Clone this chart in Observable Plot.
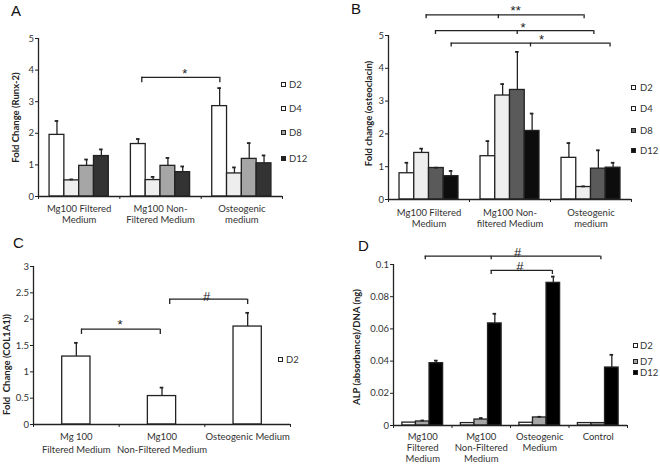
<!DOCTYPE html>
<html>
<head>
<meta charset="utf-8">
<script src="https://cdn.jsdelivr.net/npm/d3@7"></script>
<script src="https://cdn.jsdelivr.net/npm/@observablehq/plot@0.6"></script>
<style>
  body { margin: 0; background: #fff; }
  #fig { position: relative; width: 660px; height: 464px; overflow: hidden; font-family: Lato, sans-serif; }
  .panel { position: absolute; width: 330px; height: 232px; }
  .letter { position: absolute; font-family: "Liberation Sans", Arial, sans-serif; font-size: 15px; line-height: 15px; color: #111; }
  .key { position: absolute; font-size: 9.5px; line-height: 10px; color: #333; white-space: nowrap; }
  .key span.box { position: absolute; left: 0; top: 2px; width: 3px; height: 3px; border: 1.4px solid #222; }
  .key span.txt { position: absolute; left: 0; top: 0; }
</style>
</head>
<body>
<div id="fig"></div>
<script>
// Panel A: Runx-2
const aGroups = ['Mg100 Filtered\nMedium', 'Mg100 Non-\nFiltered Medium', 'Osteogenic\nmedium']
const aSeries = ['D2', 'D4', 'D8', 'D12']
const aMeans = [[1.95, 0.51, 0.97, 1.28], [1.66, 0.52, 0.97, 0.77], [2.86, 0.73, 1.19, 1.05]]
const aSD = [[0.44, 0.03, 0.20, 0.21], [0.16, 0.10, 0.25, 0.18], [0.57, 0.19, 0.50, 0.25]]
const aTicks = [0, 1, 2, 3, 4, 5]
const aBrackets = [{x1: 0.77, x2: 1.73, y: 3.77, drop: 0.17, label: '*', lx: 1.30, ly: 3.96}]

// Panel B: osteocalcin
const bGroups = ['Mg100 Filtered\nMedium', 'Mg100 Non-\nfiltered Medium', 'Osteogenic\nmedium']
const bSeries = ['D2', 'D4', 'D8', 'D12']
const bMeans = [[0.80, 1.42, 0.96, 0.71], [1.32, 3.17, 3.34, 2.09], [1.27, 0.38, 0.94, 0.97]]
const bSD = [[0.32, 0.13, 0.01, 0.16], [0.46, 0.35, 1.16, 0.53], [0.45, 0.02, 0.56, 0.15]]
const bTicks = [0, 1, 2, 3, 4, 5]
const bBrackets = [
  {x1: -0.035, x2: 1.915, mid: 0.856, y: 5.63, drop: 0.12, label: '**', lx: 1.07, ly: 5.81},
  {x1: 0.08, x2: 2.035, mid: 1.089, y: 5.15, drop: 0.12, label: '*', lx: 1.16, ly: 5.30},
  {x1: 0.274, x2: 2.235, mid: 1.253, y: 4.77, drop: 0.12, label: '*', lx: 1.39, ly: 4.93}
]

// Panel C: COL1A1
const cGroups = ['Mg 100\nFiltered Medium', 'Mg100\nNon-Filtered Medium', 'Osteogenic Medium']
const cSeries = ['D2']
const cMeans = [[1.29], [0.54], [1.86]]
const cSD = [[0.26], [0.16], [0.26]]
const cTicks = [0, 0.5, 1, 1.5, 2, 2.5, 3]
const cBrackets = [
  {x1: 0.06, x2: 0.98, y: 1.81, drop: 0.10, label: '*', lx: 0.51, ly: 1.93},
  {x1: 1.09, x2: 2.0, y: 2.38, drop: 0.10, label: '#', lx: 1.52, ly: 2.47}
]

// Panel D: ALP/DNA
const dGroups = ['Mg100\nFiltered\nMedium', 'Mg100\nNon-Filtered\nMedium', 'Osteogenic\nMedium', 'Control']
const dSeries = ['D2', 'D7', 'D12']
const dMeans = [[0.0018, 0.0025, 0.0387], [0.0015, 0.0037, 0.0634], [0.0017, 0.0050, 0.0886], [0.0015, 0.0015, 0.0360]]
const dSD = [[0, 0.0006, 0.0016], [0, 0.0009, 0.0060], [0, 0.0004, 0.0039], [0, 0, 0.0079]]
const dTicks = [0, 0.02, 0.04, 0.06, 0.08, 0.1]
const dBrackets = [
  {x1: 0.043, x2: 3.045, mid: 1.17, y: 0.1052, drop: 0.0023, label: '#', lx: 1.62, ly: 0.1087},
  {x1: 1.17, x2: 2.216, y: 0.0963, drop: 0.0025, label: '#', lx: 1.66, ly: 0.1000}
]

const ink = '#222'
const fig = d3.select('#fig')

function panel(cfg) {
  const n = cfg.series.length
  const m = cfg.margins
  const bandPx = (330 - m.marginLeft - m.marginRight) / cfg.groups.length
  const capW = 1.8 / bandPx
  const rows = []
  cfg.groups.forEach((g, gi) => cfg.series.forEach((s, si) => {
    const xc = gi + (si - (n - 1) / 2) * cfg.barW
    rows.push({s, mean: cfg.means[gi][si], sd: cfg.sd[gi][si], xc, x1: xc - cfg.barW / 2, x2: xc + cfg.barW / 2})
  }))
  const errRows = rows.filter(d => d.sd > 0)
  const bounds = d3.range(cfg.groups.length + 1).map(i => i - 0.5)
  const yMax = cfg.ticks[cfg.ticks.length - 1]
  const bTicks = cfg.brackets.flatMap(b => [b.x1, b.x2].concat(b.mid != null ? [b.mid] : []).map(x => ({x, y: b.y, drop: b.drop})))

  const chart = Plot.plot({
    width: 330,
    height: 232,
    ...m,
    style: {fontFamily: 'Lato', fontSize: '9.5px', color: '#333', background: 'transparent'},
    x: {domain: [-0.5, cfg.groups.length - 0.5]},
    y: {domain: [0, yMax]},
    color: {domain: cfg.series, range: cfg.colors},
    marks: [
      Plot.rect(rows, {x1: 'x1', x2: 'x2', y1: 0, y2: 'mean', fill: 's', stroke: ink, strokeWidth: 1.3}),
      Plot.ruleX(errRows, {x: 'xc', y1: 'mean', y2: d => d.mean + d.sd, stroke: ink, strokeWidth: 1.3}),
      Plot.ruleY(errRows, {y: d => d.mean + d.sd, x1: d => d.xc - capW, x2: d => d.xc + capW, stroke: ink, strokeWidth: 1.8}),
      Plot.ruleX([-0.5], {y1: 0, y2: yMax, stroke: ink, strokeWidth: 1.3}),
      Plot.ruleY([0], {stroke: ink, strokeWidth: 1.3}),
      Plot.axisY({ticks: cfg.ticks, tickFormat: d => String(d), tickSize: 3, tickPadding: 1.5, label: null, stroke: ink}),
      Plot.axisX({ticks: bounds, tickFormat: () => '', tickSize: 3, label: null, stroke: ink}),
      Plot.text(cfg.groups, {x: (d, i) => i, y: 0, dy: cfg.catDy, lineAnchor: 'top', lineHeight: cfg.catLH, fill: '#333'}),
      Plot.text([cfg.yLabel], {frameAnchor: 'left', textAnchor: 'middle', rotate: -90, dx: cfg.labelDx, dy: cfg.labelDy, fontWeight: 'bold', fill: ink}),
      Plot.ruleY(cfg.brackets, {y: 'y', x1: 'x1', x2: 'x2', stroke: ink, strokeWidth: 1.3}),
      Plot.ruleX(bTicks, {x: 'x', y1: 'y', y2: d => d.y - d.drop, stroke: ink, strokeWidth: 1.3}),
      Plot.text(cfg.brackets, {x: 'lx', y: 'ly', text: 'label', fontSize: 13, fontFamily: 'Liberation Sans', dy: 2, fill: ink})
    ]
  })

  const div = fig.append('div').attr('class', 'panel').style('left', cfg.left + 'px').style('top', cfg.top + 'px')
  div.append(() => chart)
  div.append('div').attr('class', 'letter').text(cfg.letter)
    .style('left', cfg.letterPos[0] + 'px').style('top', cfg.letterPos[1] + 'px')
  cfg.series.forEach((s, i) => {
    const k = div.append('div').attr('class', 'key')
      .style('left', cfg.keyX + 'px').style('top', (cfg.keyY[i] - 5) + 'px')
    k.append('span').attr('class', 'box').style('background', cfg.keyColors[i])
    k.append('span').attr('class', 'txt').style('left', cfg.keyDx + 'px').text(s)
  })
}

panel({
  letter: 'A', letterPos: [11, 3], left: 0, top: 0,
  margins: {marginLeft: 38, marginRight: 48, marginTop: 38, marginBottom: 36},
  groups: aGroups, series: aSeries, means: aMeans, sd: aSD, ticks: aTicks, brackets: aBrackets,
  colors: ['#ffffff', '#eeeeee', '#a6a6a6', '#333333'], barW: 0.182,
  yLabel: 'Fold Change (Runx-2)', labelDx: -23, labelDy: 0,
  catDy: 7, catLH: 1.2,
  keyX: 281, keyY: [85, 109, 133, 159], keyDx: 8, keyColors: ['#fff', '#fff', '#a6a6a6', '#222']
})

panel({
  letter: 'B', letterPos: [21, 1], left: 330, top: 0,
  margins: {marginLeft: 58, marginRight: 29, marginTop: 35, marginBottom: 33},
  groups: bGroups, series: bSeries, means: bMeans, sd: bSD, ticks: bTicks, brackets: bBrackets,
  colors: ['#ffffff', '#eeeeee', '#5a5a5a', '#0d0d0d'], barW: 0.182,
  yLabel: 'Fold change (osteoclacin)', labelDx: -20, labelDy: -4,
  catDy: 8, catLH: 1.2,
  keyX: 301, keyY: [88, 109, 131, 151], keyDx: 9, keyColors: ['#fff', '#fff', '#666', '#111']
})

panel({
  letter: 'C', letterPos: [13, 3], left: 0, top: 232,
  margins: {marginLeft: 33, marginRight: 40, marginTop: 34, marginBottom: 40},
  groups: cGroups, series: cSeries, means: cMeans, sd: cSD, ticks: cTicks, brackets: cBrackets,
  colors: ['#ffffff'], barW: 0.33,
  yLabel: 'Fold  Change (COL1A1))', labelDx: -27, labelDy: 19,
  catDy: 7, catLH: 1.3,
  keyX: 278, keyY: [128], keyDx: 8, keyColors: ['#fff']
})

panel({
  letter: 'D', letterPos: [28, 6], left: 330, top: 232,
  margins: {marginLeft: 63, marginRight: 33, marginTop: 32, marginBottom: 39},
  groups: dGroups, series: dSeries, means: dMeans, sd: dSD, ticks: dTicks, brackets: dBrackets,
  colors: ['#ffffff', '#a6a6a6', '#000000'], barW: 0.232,
  yLabel: 'ALP (absorbance)/DNA (ng)', labelDx: -37, labelDy: 2,
  catDy: 7, catLH: 1.15,
  keyX: 303, keyY: [114, 130, 141], keyDx: 7, keyColors: ['#fff', '#a6a6a6', '#000']
})
</script>
</body>
</html>
